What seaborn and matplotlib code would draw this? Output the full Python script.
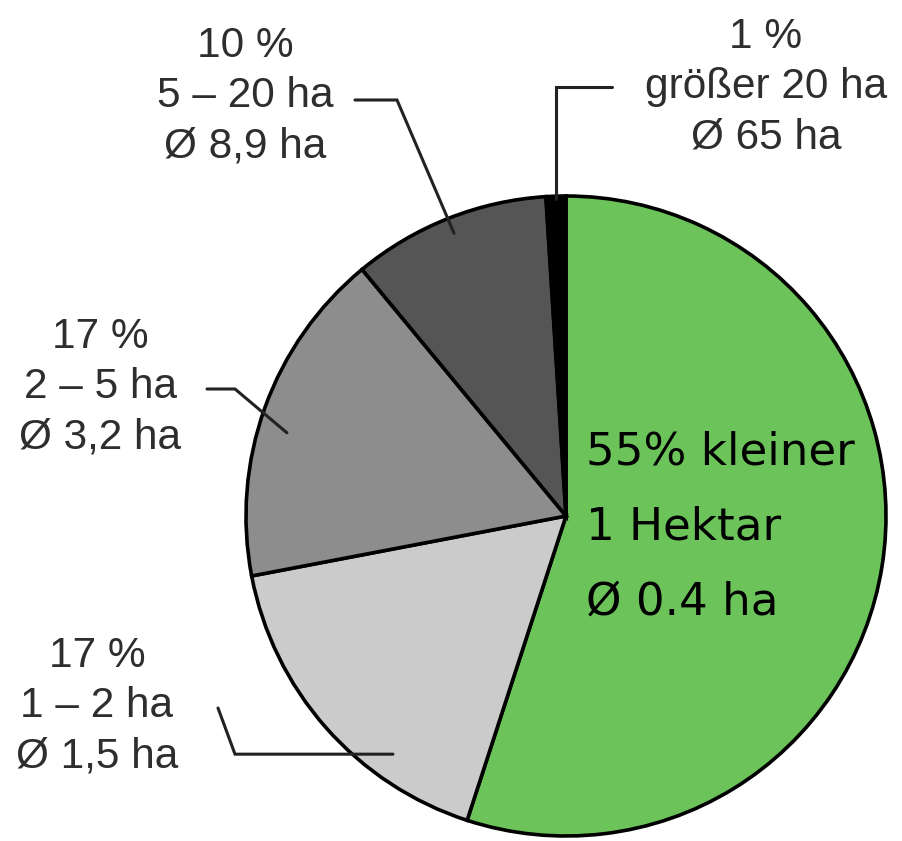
import matplotlib
matplotlib.use("Agg")
import matplotlib.pyplot as plt
import numpy as np
import seaborn as sns

# farm size classes (share of farms in %)
shares = [55, 17, 17, 10, 1]
classes = ["kleiner 1 ha", "1 – 2 ha", "2 – 5 ha", "5 – 20 ha", "größer 20 ha"]
outer_labels = [
    None,
    "17 %\n1 – 2 ha\nØ 1,5 ha",
    "17 %\n2 – 5 ha\nØ 3,2 ha",
    "10 %\n5 – 20 ha\nØ 8,9 ha",
    "1 %\ngrößer 20 ha\nØ 65 ha",
]
inner_lines = ["55% kleiner", "1 Hektar", "Ø 0.4 ha"]
colors = ["#6cc35a", "#cbcbcb", "#8d8d8d", "#555555", "#000000"]

sns.set_theme(style="white")
plt.rcParams["font.family"] = ["Liberation Sans", "DejaVu Sans"]

W, H = 902, 841
fig = plt.figure(figsize=(W / 100, H / 100), dpi=100)
ax = fig.add_axes([0, 0, 1, 1])


def py(y):
    # pixel row -> data y
    return H - y


cx, cy, R = 566, py(516), 320
wedges, _ = ax.pie(shares, colors=colors, startangle=90, counterclock=False,
                   center=(cx, cy), radius=R,
                   wedgeprops=dict(edgecolor="black", linewidth=2.6))
ax.set_xlim(0, W)
ax.set_ylim(0, H)
ax.set_aspect("equal")
ax.axis("off")


def anchor(i, dtheta, rfrac):
    w = wedges[i]
    t = np.deg2rad((w.theta1 + w.theta2) / 2 + dtheta)
    return cx + R * rfrac * np.cos(t), cy + R * rfrac * np.sin(t)


line_kw = dict(color="#222222", lw=2.2, zorder=5, solid_joinstyle="miter")

# 1 - 2 ha
ex, ey = anchor(1, 12.6, 0.92)
ax.plot([218, 235, ex], [py(708), ey, ey], **line_kw)
# 2 - 5 ha
ex, ey = anchor(2, 3.2, 0.91)
ax.plot([207, 235, ex], [py(389), py(389), ey], **line_kw)
# 5 - 20 ha
ex, ey = anchor(3, 0, 0.95)
ax.plot([355, 397, ex], [py(100), py(100), ey], **line_kw)
# > 20 ha
ex, ey = anchor(4, 0, 0.99)
ax.plot([612, ex, ex], [py(87), py(87), ey], **line_kw)

label_pos = [None, (97, 706), (100, 387), (245, 96), (766, 87)]
for lab, pos in zip(outer_labels, label_pos):
    if lab is None:
        continue
    ax.text(pos[0], py(pos[1]), lab, ha="center", va="center",
            multialignment="center", fontsize=30.5, color="#2e2e2e",
            linespacing=1.33)

for k, line in enumerate(inner_lines):
    ax.text(586, py(452 + k * 75), line, ha="left", va="center",
            fontsize=32.5, color="black", family=["DejaVu Sans"])

fig.savefig("out.png", dpi=100)
